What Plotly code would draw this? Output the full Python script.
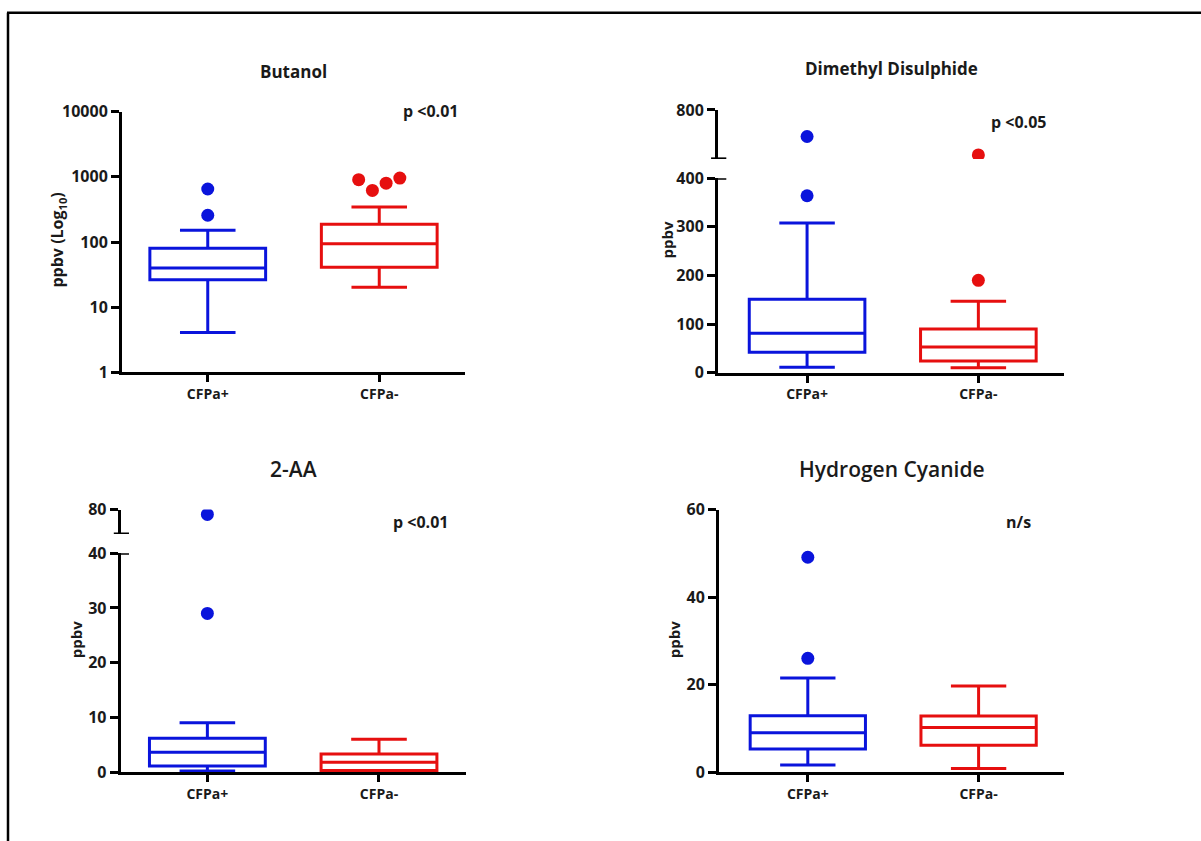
import numpy as np
import plotly.graph_objects as go

# ---------------- data ----------------
groups = ["CFPa+", "CFPa-"]
colors = ["#0a14dc", "#e60f0f"]

# Butanol (log axis)
but_q1 = [26.4, 41]
but_med = [40, 94]
but_q3 = [80, 188]
but_lo = [4.1, 20.3]
but_hi = [151, 343]
but_out = [[257, 650], [903, 618, 800, 955]]

# Dimethyl Disulphide (broken axis)
dmds_q1 = [42, 24]
dmds_med = [81, 53]
dmds_q3 = [151, 90]
dmds_lo = [11, 10]
dmds_hi = [308, 147]
dmds_out = [[364, 637], [190, 524]]

# 2-AA (broken axis)
aa_q1 = [1.1, 0.3]
aa_med = [3.6, 1.8]
aa_q3 = [6.2, 3.3]
aa_lo = [0.2, 0.1]
aa_hi = [9.0, 6.0]
aa_out = [[29.0, 76.0], []]

# Hydrogen Cyanide
hcn_q1 = [5.25, 6.1]
hcn_med = [9.0, 10.2]
hcn_q3 = [12.9, 12.8]
hcn_lo = [1.6, 0.8]
hcn_hi = [21.5, 19.7]
hcn_out = [[26.0, 49.1], []]

titles = ["Butanol", "Dimethyl Disulphide", "2-AA", "Hydrogen Cyanide"]
pvals = ["p <0.01", "p <0.05", "p <0.01", "n/s"]

but_ticks = [1, 10, 100, 1000, 10000]
dmds_ticks_low = [0, 100, 200, 300, 400]
dmds_ticks_up = [800]
aa_ticks_low = [0, 10, 20, 30, 40]
aa_ticks_up = [80]
hcn_ticks = [0, 20, 40, 60]

# ---------------- figure ----------------
W, H = 1201, 852
OY, SY = 10.3, 0.975   # vertical placement of the page in the photograph
FONT = "Open Sans, Noto Sans, sans-serif"
TXT = "#1a1a1a"


def px(x):
    return x / W


def py(y):
    return 1 - ((y - OY) / SY) / H


fig = go.Figure()

BOXW = 0.675
WHW = 0.48


def add_panel(xa, ya, q1, med, q3, lo, hi, outs, split=None, ya_up=None):
    for i in range(2):
        fig.add_trace(go.Box(
            x=[i], q1=[q1[i]], median=[med[i]], q3=[q3[i]],
            lowerfence=[lo[i]], upperfence=[hi[i]],
            width=BOXW, whiskerwidth=WHW, boxpoints=False,
            fillcolor="white", line=dict(color=colors[i], width=3),
            xaxis=xa, yaxis=ya, showlegend=False, hoverinfo="skip"))
        vals = outs[i]
        if not vals:
            continue
        n = len(vals)
        # spread points that would overlap (4 close values)
        if n > 2:
            offs = np.linspace(-0.12, 0.12, n)
        else:
            offs = np.zeros(n)
        for v, o in zip(vals, offs):
            target = ya
            if split is not None and v > split:
                target = ya_up
            fig.add_trace(go.Scatter(
                x=[i + o], y=[v], mode="markers",
                marker=dict(color=colors[i], size=13),
                xaxis=xa, yaxis=target, showlegend=False, hoverinfo="skip"))


add_panel("x", "y", but_q1, but_med, but_q3, but_lo, but_hi, but_out)
add_panel("x2", "y2", dmds_q1, dmds_med, dmds_q3, dmds_lo, dmds_hi, dmds_out,
          split=450, ya_up="y3")
add_panel("x3", "y4", aa_q1, aa_med, aa_q3, aa_lo, aa_hi, aa_out,
          split=50, ya_up="y5")
add_panel("x4", "y6", hcn_q1, hcn_med, hcn_q3, hcn_lo, hcn_hi, hcn_out)

axis_common = dict(showline=True, linewidth=3, linecolor="black",
                   showgrid=False, zeroline=False, ticks="outside",
                   tickwidth=3, tickcolor="black",
                   tickfont=dict(family=FONT, size=16, color=TXT, weight="bold"))

xcommon = dict(axis_common, ticklen=7, tickvals=[0, 1], ticktext=groups,
               tickfont=dict(family=FONT, size=14, color=TXT, weight="bold"))
ycommon = dict(axis_common, ticklen=8)

layout = dict(
    width=W, height=H, margin=dict(l=0, r=0, t=0, b=0),
    paper_bgcolor="white", plot_bgcolor="white", boxmode="overlay",
    showlegend=False,
    xaxis=dict(xcommon, domain=[px(122), px(465)], range=[-0.5, 1.5], anchor="y"),
    yaxis=dict(ycommon, domain=[py(372), py(111)], type="log", range=[0, 4],
               tickvals=but_ticks, ticktext=[str(t) for t in but_ticks], anchor="x"),
    xaxis2=dict(xcommon, domain=[px(718), px(1064)], range=[-0.52, 1.5], anchor="y2"),
    yaxis2=dict(ycommon, domain=[py(372.3), py(177.7)], range=[0, 400],
                tickvals=dmds_ticks_low, anchor="x2"),
    yaxis3=dict(ycommon, domain=[py(158.3), py(109.3)], range=[500, 800],
                tickvals=dmds_ticks_up, anchor="x2"),
    xaxis3=dict(xcommon, domain=[px(120.7), px(466)], range=[-0.505, 1.507], anchor="y4"),
    yaxis4=dict(ycommon, domain=[py(772), py(553)], range=[0, 40],
                tickvals=aa_ticks_low, anchor="x3"),
    yaxis5=dict(ycommon, domain=[py(533.7), py(509.3)], range=[60, 80],
                tickvals=aa_ticks_up, anchor="x3"),
    xaxis4=dict(xcommon, domain=[px(719), px(1064)], range=[-0.52, 1.5], anchor="y6"),
    yaxis6=dict(ycommon, domain=[py(772), py(509.3)], range=[0, 60],
                tickvals=hcn_ticks, anchor="x4"),
)
fig.update_layout(**layout)

annotations = []
# panel titles
title_pos = [(293, 70.7, "bold", 17), (891.7, 68, "bold", 17),
             (293, 469, 600, 21), (891.7, 469, 600, 21)]
for t, (x, y, wt, sz) in zip(titles, title_pos):
    annotations.append(dict(x=px(x), y=py(y), xref="paper", yref="paper",
                            text=t, showarrow=False, xanchor="center", yanchor="middle",
                            font=dict(family=FONT, size=sz, color=TXT, weight=wt)))
# p values
p_pos = [(460, 110), (1048, 121.7), (450, 521.7), (1033, 521.7)]
for t, (x, y) in zip(pvals, p_pos):
    annotations.append(dict(x=px(x), y=py(y), xref="paper", yref="paper",
                            text=t, showarrow=False, xanchor="right", yanchor="middle",
                            font=dict(family=FONT, size=16, color=TXT, weight="bold")))
# y-axis titles
yt = [("ppbv (Log<sub>10</sub>)", 58, 240, 16), ("ppbv", 667, 240, 15),
      ("ppbv", 76, 640, 15), ("ppbv", 674, 640, 15)]
for t, x, y, sz in yt:
    annotations.append(dict(x=px(x), y=py(y), xref="paper", yref="paper",
                            text=t, showarrow=False, textangle=-90,
                            xanchor="center", yanchor="middle",
                            font=dict(family=FONT, size=sz, color=TXT, weight="bold")))
fig.update_layout(annotations=annotations)

shapes = []
# outer frame (top and left only)
shapes.append(dict(type="line", xref="paper", yref="paper",
                   x0=px(7), x1=1, y0=py(12), y1=py(12),
                   line=dict(color="black", width=2.5)))
shapes.append(dict(type="line", xref="paper", yref="paper",
                   x0=px(8), x1=px(8), y0=py(12), y1=0,
                   line=dict(color="black", width=2.5)))
# axis-break caps
breaks = [("x2 domain", "y2", 400), ("x2 domain", "y3", 500),
          ("x3 domain", "y4", 40), ("x3 domain", "y5", 60)]
for xr, yr, v in breaks:
    shapes.append(dict(type="line", xref=xr, yref=yr, x0=-0.02, x1=0.024,
                       y0=v, y1=v, line=dict(color="black", width=3)))
fig.update_layout(shapes=shapes)

fig.write_html("out.html")
